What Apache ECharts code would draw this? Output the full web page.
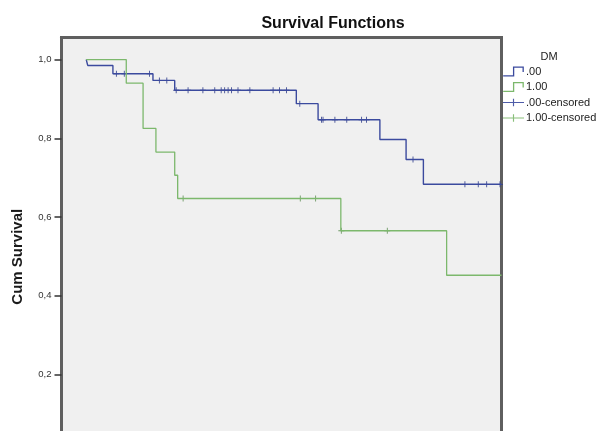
<!DOCTYPE html>
<html>
<head>
<meta charset="utf-8">
<script src="https://cdn.jsdelivr.net/npm/echarts@6/dist/echarts.min.js"></script>
<style>
html,body{margin:0;padding:0;background:#fff;overflow:hidden;}
#chart{width:605px;height:520px;}
</style>
</head>
<body>
<div id="chart"></div>
<script>
// Survival time (months, estimated) and cumulative survival at each step
const dm0Times  = [0, 0.3, 5.4, 13.5, 17.9, 42.5, 46.9, 59.4, 64.7, 68.2, 84];
const dm0Surv   = [1.0, 0.985, 0.964, 0.947, 0.922, 0.888, 0.847, 0.797, 0.746, 0.683, 0.683];
const dm1Times  = [0, 8.1, 11.5, 14.1, 17.9, 18.5, 51.5, 72.9, 84];
const dm1Surv   = [1.0, 0.940, 0.825, 0.765, 0.706, 0.647, 0.565, 0.452, 0.452];
// censored observations
const dm0CensTimes = [6.1, 7.7, 12.8, 14.8, 16.3, 18.2, 20.6, 23.6, 26.0, 27.3, 28.0, 28.7, 29.4, 30.7, 33.1, 37.8, 39.1, 40.5, 43.2, 47.6, 47.9, 50.3, 52.7, 55.7, 56.7, 66.1, 76.6, 79.3, 81.0, 83.7];
const dm0CensSurv  = [0.964, 0.964, 0.964, 0.947, 0.947, 0.922, 0.922, 0.922, 0.922, 0.922, 0.922, 0.922, 0.922, 0.922, 0.922, 0.922, 0.922, 0.922, 0.888, 0.847, 0.847, 0.847, 0.847, 0.847, 0.847, 0.746, 0.683, 0.683, 0.683, 0.683];
const dm1CensTimes = [19.6, 43.3, 46.4, 51.6, 60.9];
const dm1CensSurv  = [0.647, 0.647, 0.647, 0.565, 0.565];
const yTicks = [0, 0.2, 0.4, 0.6, 0.8, 1.0];
const seriesNames = ['.00', '1.00', '.00-censored', '1.00-censored'];

const blue = '#3b4a9e';
const green = '#7cb86c';
const zip = (a, b) => a.map((v, i) => [v, b[i]]);
const plusPath = 'path://M4,0h1.4v9.4h-1.4z M0,4h9.4v1.4h-9.4z';
const stepIcon = 'path://M0,9h9v-8h10v5h-1.2v-3.8h-7.6v8h-10.2z';
const censIcon = 'path://M0,5h22v1.2h-22z M10.4,1.6h1.2v8h-1.2z';

const chart = echarts.init(document.getElementById('chart'), null, {renderer: 'canvas'});
chart.setOption({
  animation: false,
  backgroundColor: '#ffffff',
  textStyle: {fontFamily: 'Liberation Sans, Arial, sans-serif'},
  graphic: [
    {type: 'text', x: 333, y: 24, style: {text: 'Survival Functions', fill: '#111', font: 'bold 16px "Liberation Sans", Arial', textAlign: 'center', textVerticalAlign: 'middle'}},
    {type: 'text', x: 549, y: 57, style: {text: 'DM', fill: '#222', font: '11px "Liberation Sans", Arial', textAlign: 'center', textVerticalAlign: 'middle'}}
  ],
  legend: {
    orient: 'vertical',
    left: 503,
    top: 66,
    itemWidth: 21,
    itemHeight: 10,
    itemGap: 4.5,
    padding: 0,
    textStyle: {fontSize: 11, color: '#222', padding: [0, 0, 0, -3]},
    data: [
      {name: seriesNames[0], icon: stepIcon, itemStyle: {color: blue}},
      {name: seriesNames[1], icon: stepIcon, itemStyle: {color: green}},
      {name: seriesNames[2], icon: censIcon, itemStyle: {color: blue}},
      {name: seriesNames[3], icon: censIcon, itemStyle: {color: green}}
    ]
  },
  grid: {
    left: 61.5, right: 103.5, top: 37.5, bottom: 44,
    show: true, backgroundColor: '#f0f0f0', borderColor: '#5f5f5f', borderWidth: 3
  },
  xAxis: {
    type: 'value', min: -5, max: 84,
    splitLine: {show: false},
    axisLine: {onZero: false, lineStyle: {color: '#5f5f5f', width: 3}},
    axisLabel: {show: false}, axisTick: {show: false}
  },
  yAxis: {
    type: 'value', min: -0.058, max: 1.056,
    name: 'Cum Survival', nameLocation: 'middle', nameGap: 36,
    nameTextStyle: {fontSize: 15, fontWeight: 'bold', color: '#1a1a1a'},
    splitLine: {show: false},
    axisLine: {show: true, onZero: false, lineStyle: {color: '#5f5f5f', width: 3}},
    axisTick: {show: true, length: 7, customValues: yTicks, lineStyle: {color: '#333', width: 1.5}},
    axisLabel: {fontSize: 9.5, color: '#333', margin: 10, customValues: yTicks,
      formatter: v => v.toFixed(1).replace('.', ',')}
  },
  series: [
    {name: seriesNames[0], type: 'line', step: 'end', symbol: 'none', data: zip(dm0Times, dm0Surv),
      lineStyle: {color: blue, width: 1.4}, itemStyle: {color: blue}},
    {name: seriesNames[1], type: 'line', step: 'end', symbol: 'none', data: zip(dm1Times, dm1Surv),
      lineStyle: {color: green, width: 1.3}, itemStyle: {color: green}},
    {name: seriesNames[2], type: 'scatter', symbol: plusPath, symbolSize: 6, data: zip(dm0CensTimes, dm0CensSurv),
      itemStyle: {color: '#2f3c8a', opacity: 0.9}},
    {name: seriesNames[3], type: 'scatter', symbol: plusPath, symbolSize: 6, data: zip(dm1CensTimes, dm1CensSurv),
      itemStyle: {color: '#5f8f55', opacity: 0.9}}
  ]
});
</script>
</body>
</html>
